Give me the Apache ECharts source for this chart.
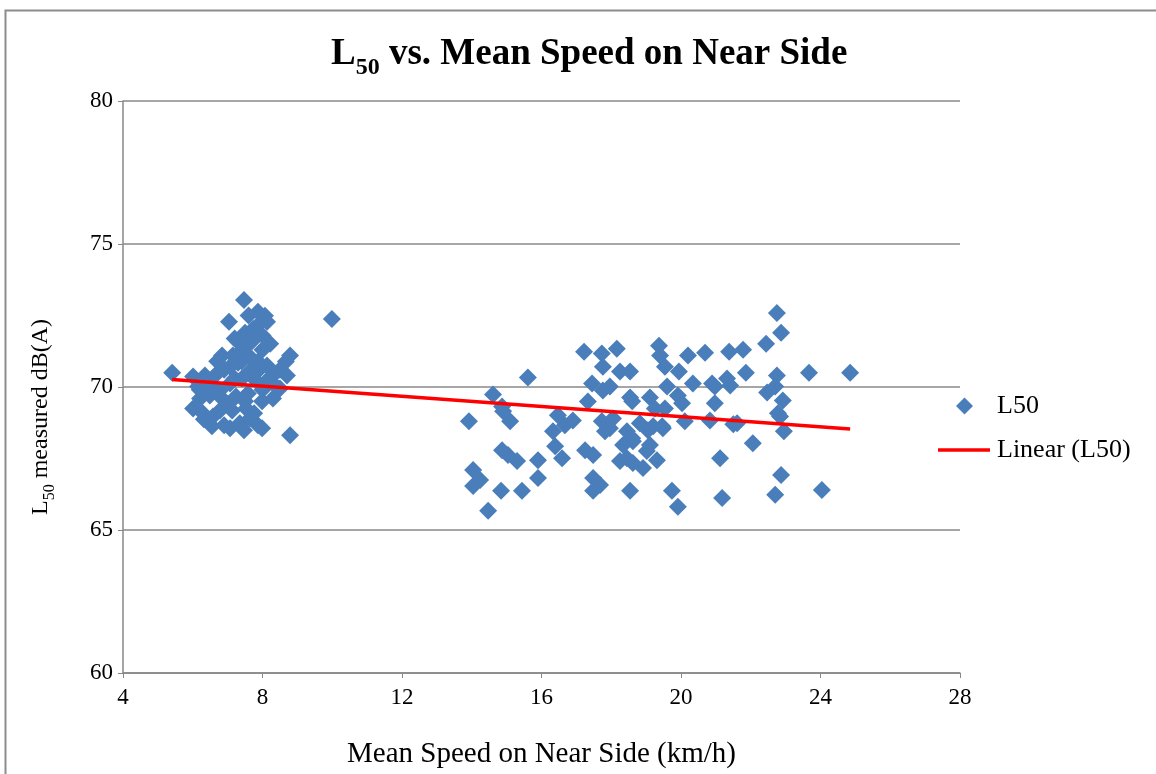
<!DOCTYPE html>
<html>
<head>
<meta charset="utf-8">
<title>L50 vs. Mean Speed on Near Side</title>
<script src="https://cdn.jsdelivr.net/npm/echarts@6/dist/echarts.min.js"></script>
<style>
  html, body { margin: 0; padding: 0; background: #fff; }
  #chart { width: 1156px; height: 774px; }
</style>
</head>
<body>
<div id="chart"></div>
<script>
// Mean speed on the near side (km/h) for each measurement
const speedKmh = [
  // slow-traffic group
  5.41, 7.47, 7.04, 7.87, 8.07, 7.73, 8.13, 7.30, 6.84, 7.15, 7.44, 8.22, 8.79, 8.67, 8.70,
  7.87, 8.13, 7.64, 7.30, 7.07, 6.64, 6.35, 6.01, 6.15, 6.49, 6.78, 7.07, 7.41, 7.81, 8.10,
  8.39, 8.50, 8.30, 7.99, 7.58, 7.24, 6.84, 6.49, 6.21, 6.01, 6.29, 6.58, 6.78, 7.13, 7.53,
  7.76, 6.55, 6.90, 7.35, 7.64, 7.87, 7.99, 8.79, 6.32, 7.07, 7.47, 9.99,
  7.60, 7.90, 7.50, 7.70, 8.00, 7.40, 7.60, 7.90, 8.30, 6.90, 7.20, 6.60, 7.00, 7.50, 8.00,
  8.50, 6.20, 6.70, 7.20, 8.00,
  // faster-traffic group
  13.92, 14.61, 14.87, 14.90, 15.10, 15.61, 14.87, 15.04, 15.30, 14.04, 14.24, 14.04, 14.84, 15.44, 14.47,
  15.90, 15.90, 16.47, 16.90, 16.67, 16.33, 16.39, 16.59, 17.22, 17.73, 18.16, 17.76, 18.25, 18.54, 17.45,
  17.96, 17.76, 18.54, 17.33, 17.73, 18.05, 17.82, 18.45, 17.25, 17.48, 18.34, 18.60, 18.45, 18.62, 17.48,
  17.48, 18.54, 22.75, 22.87, 22.44, 21.78, 21.38, 20.69, 20.20, 19.37, 19.40, 19.54, 19.94, 20.34, 20.89,
  21.32, 21.86, 22.75, 23.67, 24.85, 19.60, 20.97, 21.41, 22.47, 22.70, 19.11, 20.03, 19.91, 20.97, 22.92,
  19.25, 19.54, 22.78, 22.84, 22.95, 20.11, 20.83, 21.61, 19.46, 19.05, 22.06, 21.12, 22.87, 24.04, 22.70,
  21.18, 19.91, 19.74, 18.91, 19.31, 19.11, 18.62, 18.82, 19.20, 18.60, 21.50, 17.96, 19.48, 19.02, 18.25,
  17.68
];

// L50 sound level measured for each speed above, dB(A)
const l50Measured = [
  70.50, 73.04, 72.28, 72.63, 72.49, 72.03, 72.28, 71.58, 71.10, 71.10, 71.34, 71.51, 71.10, 70.89, 70.40,
  70.89, 70.75, 70.57, 70.85, 70.71, 70.40, 70.40, 70.37, 70.02, 70.02, 69.88, 70.12, 70.30, 70.23, 70.19,
  70.02, 69.95, 69.60, 69.50, 69.77, 69.67, 69.60, 69.70, 69.60, 69.25, 69.08, 68.97, 69.18, 69.18, 69.25,
  69.08, 68.63, 68.66, 68.73, 68.90, 68.66, 68.56, 68.31, 68.87, 68.56, 68.49, 72.38,
  72.50, 72.20, 71.90, 71.60, 71.30, 70.90, 71.10, 70.60, 70.40, 70.60, 70.30, 69.90, 69.40, 69.50, 69.90,
  70.60, 69.90, 70.90, 71.70, 71.80,
  68.80, 69.74, 69.32, 69.15, 68.80, 70.33, 67.79, 67.62, 67.41, 67.10, 66.75, 66.54, 66.37, 66.37, 65.67,
  67.44, 66.82, 69.01, 68.83, 68.66, 68.45, 67.93, 67.51, 71.23, 71.17, 71.34, 70.71, 70.54, 70.54, 70.12,
  70.02, 69.88, 69.63, 69.49, 68.80, 68.90, 68.45, 68.45, 67.79, 67.62, 67.97, 68.21, 67.51, 67.34, 66.82,
  66.37, 66.37, 72.59, 71.90, 71.51, 71.30, 71.23, 71.20, 71.10, 71.44, 71.10, 70.71, 70.54, 70.12, 70.12,
  70.30, 70.50, 70.40, 70.50, 70.50, 70.02, 70.02, 70.05, 69.81, 70.02, 69.63, 69.43, 69.70, 69.43, 69.53,
  69.25, 69.25, 69.08, 68.97, 68.45, 68.80, 68.83, 68.73, 68.63, 68.49, 68.03, 67.51, 66.92, 66.40, 66.23,
  66.12, 65.81, 66.37, 67.17, 67.44, 67.97, 68.10, 68.73, 68.63, 69.50, 68.70, 68.56, 68.56, 67.76, 67.41,
  66.57
];

// Axis ticks
const xTicks = [4, 8, 12, 16, 20, 24, 28];
const yTicks = [60, 65, 70, 75, 80];

const points = speedKmh.map((s, i) => [s, l50Measured[i]]);

// Least-squares linear trend over the measured points
function linearFit(xs, ys) {
  const n = xs.length;
  let sx = 0, sy = 0, sxx = 0, sxy = 0;
  for (let i = 0; i < n; i++) {
    sx += xs[i]; sy += ys[i]; sxx += xs[i] * xs[i]; sxy += xs[i] * ys[i];
  }
  const slope = (n * sxy - sx * sy) / (n * sxx - sx * sx);
  const intercept = (sy - slope * sx) / n;
  return { slope, intercept };
}
const fit = linearFit(speedKmh, l50Measured);
const xMin = Math.min(...speedKmh);
const xMax = Math.max(...speedKmh);
const trend = [
  [xMin, fit.intercept + fit.slope * xMin],
  [xMax, fit.intercept + fit.slope * xMax]
];

const serif = '"Liberation Serif", "Times New Roman", serif';
const gridGrey = '#888888';

const chart = echarts.init(document.getElementById('chart'), null, { renderer: 'canvas' });
chart.setOption({
  backgroundColor: '#ffffff',
  animation: false,
  graphic: [{
    type: 'rect',
    left: 3, top: 8,
    shape: { width: 1200, height: 800 },
    style: { fill: 'none', stroke: '#8c8c8c', lineWidth: 2 },
    silent: true
  }],
  title: {
    text: '{a|L}{s|50}{a| vs. Mean Speed on Near Side}',
    left: 326,
    top: 31,
    textStyle: {
      rich: {
        a: { fontFamily: serif, fontWeight: 'bold', fontSize: 37, color: '#000', verticalAlign: 'bottom' },
        s: { fontFamily: serif, fontWeight: 'bold', fontSize: 24, color: '#000', verticalAlign: 'bottom', padding: [0, 0, -7, 0] }
      }
    }
  },
  legend: [{
    data: [{ name: 'L50', icon: 'diamond' }],
    left: 951, top: 388,
    itemWidth: 17, itemHeight: 17,
    textStyle: { fontFamily: serif, fontSize: 26, color: '#000', padding: [0, 0, 0, 19] }
  }, {
    data: [{ name: 'Linear (L50)', icon: 'path://M0,0 L52,0 L52,3.5 L0,3.5 Z' }],
    left: 933, top: 432,
    itemWidth: 52, itemHeight: 3.5,
    textStyle: { fontFamily: serif, fontSize: 26, color: '#000', padding: [0, 0, 0, 2] }
  }],
  grid: { left: 123, right: 196, top: 101, bottom: 98, containLabel: false },
  xAxis: {
    type: 'value',
    min: xTicks[0], max: xTicks[xTicks.length - 1], interval: 4,
    name: 'Mean Speed on Near Side (km/h)',
    nameLocation: 'middle',
    nameGap: 67,
    nameTextStyle: { fontFamily: serif, fontSize: 29, color: '#000' },
    axisLine: { show: true, lineStyle: { color: gridGrey, width: 1.5 } },
    axisTick: { show: true, length: 5, lineStyle: { color: gridGrey } },
    axisLabel: { fontFamily: serif, fontSize: 23, color: '#000', margin: 13 },
    splitLine: { show: false }
  },
  yAxis: {
    type: 'value',
    min: yTicks[0], max: yTicks[yTicks.length - 1], interval: 5,
    name: '{a|L}{s|50}{a| measured dB(A)}',
    nameLocation: 'middle',
    nameGap: 70,
    nameRotate: 90,
    nameTextStyle: {
      padding: [0, 60, 0, 0],
      rich: {
        a: { fontFamily: serif, fontSize: 24, color: '#000', verticalAlign: 'bottom' },
        s: { fontFamily: serif, fontSize: 16, color: '#000', verticalAlign: 'bottom', padding: [0, 0, -5, 0] }
      }
    },
    axisLine: { show: true, lineStyle: { color: gridGrey, width: 1.5 } },
    axisTick: { show: true, length: 5, lineStyle: { color: gridGrey } },
    axisLabel: { fontFamily: serif, fontSize: 23, color: '#000', margin: 10 },
    splitLine: { show: true, lineStyle: { color: gridGrey, width: 1.5 } }
  },
  series: [{
    name: 'L50',
    type: 'scatter',
    symbol: 'diamond',
    symbolSize: 18,
    itemStyle: { color: '#4a7ebb', opacity: 1 },
    data: points,
    z: 2
  }, {
    name: 'Linear (L50)',
    type: 'line',
    symbol: 'none',
    lineStyle: { color: '#ff0000', width: 3.5 },
    itemStyle: { color: '#ff0000' },
    data: trend,
    z: 3
  }]
});
</script>
</body>
</html>
